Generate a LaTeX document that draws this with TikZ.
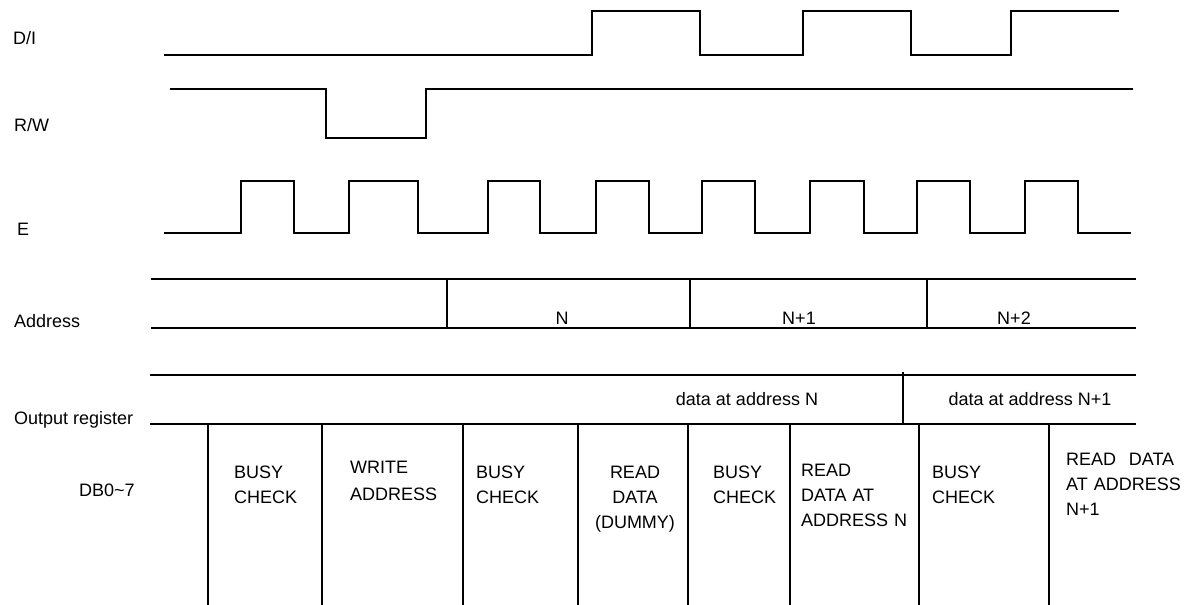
\documentclass[tikz,border=0pt]{standalone}
\usepackage{fontspec}
\setmainfont{Liberation Sans}
\usetikzlibrary{positioning}
\tikzset{
    signal/.style={draw=black, line width=1.6pt, line join=miter},
    busline/.style={draw=black, line width=1.6pt},
    signame/.style={anchor=base west, inner sep=0pt},
    busval/.style={anchor=base, inner sep=0pt},
    steptext/.style={anchor=base west, inner sep=0pt, align=left, text width=118pt},
}

\begin{document}
\begin{tikzpicture}[x=1pt, y=-1pt, font=\fontsize{18}{25}\selectfont]
	\useasboundingbox (0,0) rectangle (1187,605);
	% signal names
	\node[signame] (di) at (13,45) {D/I};
	\node[signame] (rw) at (14,131) {R/W};
	\node[signame] (en) at (17,235) {E};
	\node[signame] (addr) at (14,327) {Address};
	\node[signame] (outreg) at (14,424) {Output register};
	\node[signame] (db) at (79,496) {DB0\textasciitilde7};
	% D/I
	\draw[signal] (164,55) -- (592,55) -- (592,11) -- (700,11) -- (700,55)
		-- (803,55) -- (803,11) -- (911,11) -- (911,55)
		-- (1011,55) -- (1011,11) -- (1119,11);
	% R/W
	\draw[signal] (170,89) -- (326,89) -- (326,138) -- (426,138) -- (426,89) -- (1133,89);
	% E
	\draw[signal] (164,233)
		foreach \r/\f in {241/294, 349/418, 488/540, 596/649, 702/755, 810/864, 917/970, 1025/1078}
		{ -- (\r,233) -- (\r,181) -- (\f,181) -- (\f,233) } -- (1131,233);
	% Address
	\draw[busline] (151,279) -- (1136,279);
	\draw[busline] (151,328) -- (1136,328);
	\foreach \x in {447, 690, 927}
		\draw[busline] (\x,279) -- (\x,328);
	\node[busval] (an) at (562,324) {N};
	\node[busval] (an1) at (799,324) {N+1};
	\node[busval] (an2) at (1014,324) {N+2};
	% Output register
	\draw[busline] (150,375) -- (1136,375);
	\draw[busline] (150,424) -- (1136,424);
	\draw[busline] (903,372) -- (903,424);
	\node[busval] (on) at (747,405) {data at address N};
	\node[busval] (on1) at (1030,405) {data at address N+1};
	% DB0~7
	\foreach \x in {208, 322, 463, 578, 688, 790, 919, 1049}
		\draw[busline] (\x,424) -- (\x,605);
	\node[steptext] (bc1) at (234,478) {BUSY\\CHECK};
	\node[steptext] (wa) at (350,473) {WRITE\\[2pt]ADDRESS};
	\node[steptext] (bc2) at (476,478) {BUSY\\CHECK};
	\node[busval, align=center, text width=100pt] (rd) at (635,478) {READ\\DATA\\(DUMMY)};
	\node[steptext] (bc3) at (713,478) {BUSY\\CHECK};
	\node[steptext] (rdn) at (801,476) {READ\\DATA AT\\ADDRESS N};
	\node[steptext] (bc4) at (932,478) {BUSY\\CHECK};
	\node[steptext, text width=108pt] (rdn1) at (1066,465) {READ\hfill DATA\\\mbox{AT ADDRESS}\\N+1};
\end{tikzpicture}
\end{document}
